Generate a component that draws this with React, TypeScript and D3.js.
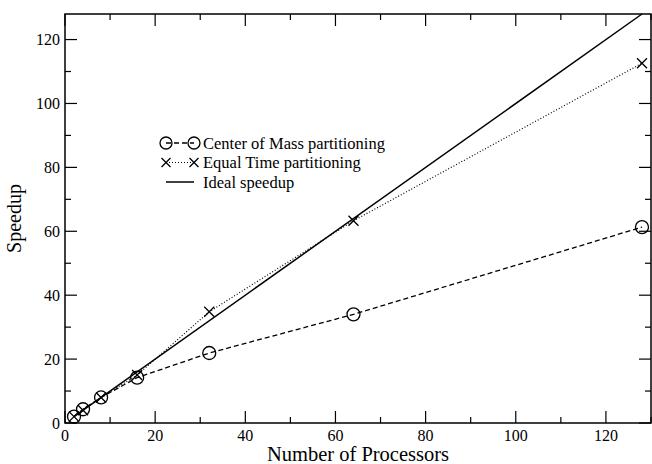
import React, { useEffect, useRef } from "react";
import * as d3 from "d3";

const processors = [2, 4, 8, 16, 32, 64, 128];
const centerOfMass = [2, 4.3, 8, 14.2, 21.9, 34, 61.3];
const equalTime = [2, 4, 8, 15, 34.8, 63.3, 112.6];
const ideal = [2, 128];
const xTicks = [0, 20, 40, 60, 80, 100, 120];
const yTicks = [0, 20, 40, 60, 80, 100, 120];

const App = () => {
  const ref = useRef<SVGSVGElement>(null);

  useEffect(() => {
    const W = 652;
    const H = 464;
    const margin = { top: 14, right: 1, bottom: 41, left: 65 };
    const width = W - margin.left - margin.right;
    const height = H - margin.top - margin.bottom;
    const font = "'Liberation Serif', 'Times New Roman', serif";

    const root = d3.select(ref.current);
    root.selectAll("*").remove();
    const svg = root.append("g").attr("transform", `translate(${margin.left},${margin.top})`);

    const x = d3.scaleLinear().domain([0, 130]).range([0, width]);
    const y = d3.scaleLinear().domain([0, 128]).range([height, 0]);

    // frame
    svg.append("rect")
      .attr("width", width).attr("height", height)
      .attr("fill", "none").attr("stroke", "#000").attr("stroke-width", 1.5);

    // ticks (inside, mirrored on all sides)
    const tk = svg.append("g").attr("stroke", "#000").attr("stroke-width", 1.2);
    d3.range(0, 131, 10).forEach((v) => {
      const len = v % 20 === 0 ? 12 : 6;
      tk.append("line").attr("x1", x(v)).attr("x2", x(v)).attr("y1", height).attr("y2", height - len);
      tk.append("line").attr("x1", x(v)).attr("x2", x(v)).attr("y1", 0).attr("y2", len);
    });
    d3.range(0, 129, 10).forEach((v) => {
      const len = v % 20 === 0 ? 12 : 6;
      tk.append("line").attr("y1", y(v)).attr("y2", y(v)).attr("x1", 0).attr("x2", len);
      tk.append("line").attr("y1", y(v)).attr("y2", y(v)).attr("x1", width).attr("x2", width - len);
    });

    svg.selectAll(".xl").data(xTicks).enter().append("text")
      .attr("x", (d) => x(d)).attr("y", height + 18)
      .attr("text-anchor", "middle").attr("font-family", font).attr("font-size", 16)
      .text((d) => d);
    svg.selectAll(".yl").data(yTicks).enter().append("text")
      .attr("x", -5).attr("y", (d) => y(d)).attr("dy", "0.35em")
      .attr("text-anchor", "end").attr("font-family", font).attr("font-size", 16)
      .text((d) => d);

    svg.append("text")
      .attr("x", width / 2).attr("y", height + 38)
      .attr("text-anchor", "middle").attr("font-family", font).attr("font-size", 20.5)
      .text("Number of Processors");
    svg.append("text")
      .attr("transform", `translate(${-44},${height / 2}) rotate(-90)`)
      .attr("text-anchor", "middle").attr("font-family", font).attr("font-size", 20)
      .text("Speedup");

    const line = d3.line<[number, number]>().x((d) => x(d[0])).y((d) => y(d[1]));

    // ideal
    svg.append("path").datum(ideal.map((v) => [v, v] as [number, number]))
      .attr("d", line).attr("fill", "none").attr("stroke", "#000").attr("stroke-width", 1.5);

    // center of mass
    const cm = processors.map((p, i) => [p, centerOfMass[i]] as [number, number]);
    svg.append("path").datum(cm).attr("d", line).attr("fill", "none")
      .attr("stroke", "#000").attr("stroke-width", 1.3).attr("stroke-dasharray", "5,3");
    svg.selectAll(".cm").data(cm).enter().append("circle")
      .attr("cx", (d) => x(d[0])).attr("cy", (d) => y(d[1])).attr("r", 6.5)
      .attr("fill", "none").attr("stroke", "#000").attr("stroke-width", 1.3);

    // equal time
    const et = processors.map((p, i) => [p, equalTime[i]] as [number, number]);
    svg.append("path").datum(et).attr("d", line).attr("fill", "none")
      .attr("stroke", "#000").attr("stroke-width", 1.2).attr("stroke-dasharray", "1,2");
    const cross = (g: any, cx: number, cy: number, s: number) => {
      g.append("path")
        .attr("d", `M${cx - s},${cy - s}L${cx + s},${cy + s}M${cx - s},${cy + s}L${cx + s},${cy - s}`)
        .attr("stroke", "#000").attr("stroke-width", 1.3).attr("fill", "none");
    };
    et.forEach((d) => cross(svg, x(d[0]), y(d[1]), 5));

    // legend
    const lg = svg.append("g").attr("transform", `translate(${162 - margin.left},${143 - margin.top})`);
    const rows = ["Center of Mass partitioning", "Equal Time partitioning", "Ideal speedup"];
    rows.forEach((label, i) => {
      const yy = i * 19.5;
      const g = lg.append("g").attr("transform", `translate(0,${yy})`);
      if (i === 0) {
        g.append("line").attr("x1", 4).attr("x2", 32).attr("stroke", "#000").attr("stroke-width", 1.3).attr("stroke-dasharray", "5,3");
        g.append("circle").attr("cx", 4).attr("r", 6).attr("fill", "none").attr("stroke", "#000").attr("stroke-width", 1.3);
        g.append("circle").attr("cx", 32).attr("r", 6).attr("fill", "none").attr("stroke", "#000").attr("stroke-width", 1.3);
      } else if (i === 1) {
        g.append("line").attr("x1", 4).attr("x2", 32).attr("stroke", "#000").attr("stroke-width", 1.2).attr("stroke-dasharray", "1,2");
        cross(g, 4, 0, 4.5);
        cross(g, 32, 0, 4.5);
      } else {
        g.append("line").attr("x1", 4).attr("x2", 32).attr("stroke", "#000").attr("stroke-width", 1.5);
      }
      g.append("text").attr("x", 41).attr("dy", "0.35em")
        .attr("font-family", font).attr("font-size", 16.5).text(label);
    });
  }, []);

  return (
    <div style={{ position: "absolute", left: 0, top: 0 }}>
      <svg ref={ref} width={652} height={464} style={{ display: "block", background: "#fff" }} />
    </div>
  );
};

export default App;
